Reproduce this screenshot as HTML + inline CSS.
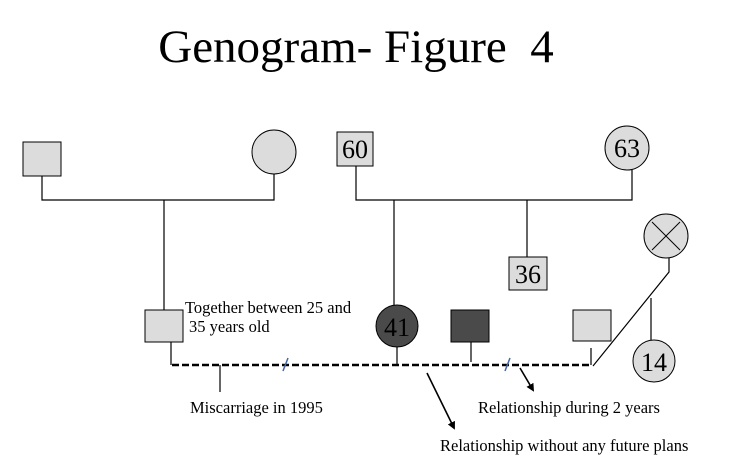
<!DOCTYPE html>
<html><head><style>body{margin:0;background:#fff}svg{display:block}</style></head><body>
<svg width="740" height="470" viewBox="0 0 740 470" xmlns="http://www.w3.org/2000/svg" font-family="Liberation Serif, serif">
<defs><marker id="a" markerWidth="8" markerHeight="8" refX="6" refY="4" orient="auto" markerUnits="userSpaceOnUse"><path d="M0,0 L8,4 L0,8 z" fill="#000"/></marker></defs>
<rect width="740" height="470" fill="#fff"/>
<text x="356" y="62" font-size="47" text-anchor="middle">Genogram- Figure&#160; 4</text>
<g stroke="#000" stroke-width="1.2" fill="none">
<polyline points="42,176 42,200 274,200 274,174"/>
<line x1="164" y1="200" x2="164" y2="310"/>
<line x1="171" y1="342" x2="171" y2="365"/>
<polyline points="356,166 356,200 632,200 632,170"/>
<line x1="527" y1="200" x2="527" y2="257"/>
<line x1="394" y1="200" x2="394" y2="306"/>
<line x1="397" y1="347" x2="397" y2="365"/>
<line x1="471" y1="342" x2="471" y2="362"/>
<line x1="591" y1="348" x2="591" y2="365"/>
<polyline points="669,258 669,272 593,366"/>
<line x1="651" y1="298" x2="651" y2="340"/>
<line x1="220" y1="365" x2="220" y2="392"/>
<line x1="172" y1="365" x2="592" y2="365" stroke-width="2.4" stroke-dasharray="7,3"/>
<line x1="427" y1="373" x2="454" y2="428" stroke-width="1.6" marker-end="url(#a)"/>
<line x1="520" y1="368" x2="533" y2="390" stroke-width="1.6" marker-end="url(#a)"/>
</g>
<line x1="283" y1="371" x2="288" y2="358" stroke="#4466aa" stroke-width="1.5"/>
<line x1="505" y1="371" x2="510" y2="358" stroke="#4466aa" stroke-width="1.5"/>
<g stroke="#000" stroke-width="1" fill="#dcdcdc">
<rect x="23" y="142" width="38" height="34"/>
<circle cx="274" cy="152" r="22"/>
<rect x="337" y="132" width="36" height="34"/>
<circle cx="627" cy="148" r="22"/>
<rect x="509" y="257" width="38" height="33"/>
<rect x="145" y="310" width="38" height="32"/>
<circle cx="397" cy="326" r="21" fill="#4a4a4a"/>
<rect x="451" y="310" width="38" height="32" fill="#4a4a4a"/>
<rect x="573" y="310" width="38" height="31"/>
<circle cx="666" cy="236" r="22"/>
<circle cx="654" cy="361" r="21"/>
</g>
<g stroke="#000" stroke-width="1"><line x1="652" y1="222" x2="680" y2="250"/><line x1="680" y1="222" x2="652" y2="250"/></g>
<g font-size="26" text-anchor="middle">
<text x="355" y="158">60</text><text x="627" y="157">63</text><text x="528" y="283">36</text>
<text x="397" y="336">41</text><text x="654" y="371">14</text>
</g>
<g font-size="16.5">
<text x="185" y="313">Together between 25 and</text>
<text x="189" y="332">35 years old</text>
<text x="190" y="413">Miscarriage in 1995</text>
<text x="478" y="413">Relationship during 2 years</text>
<text x="440" y="451">Relationship without any future plans</text>
</g>
</svg>
</body></html>
